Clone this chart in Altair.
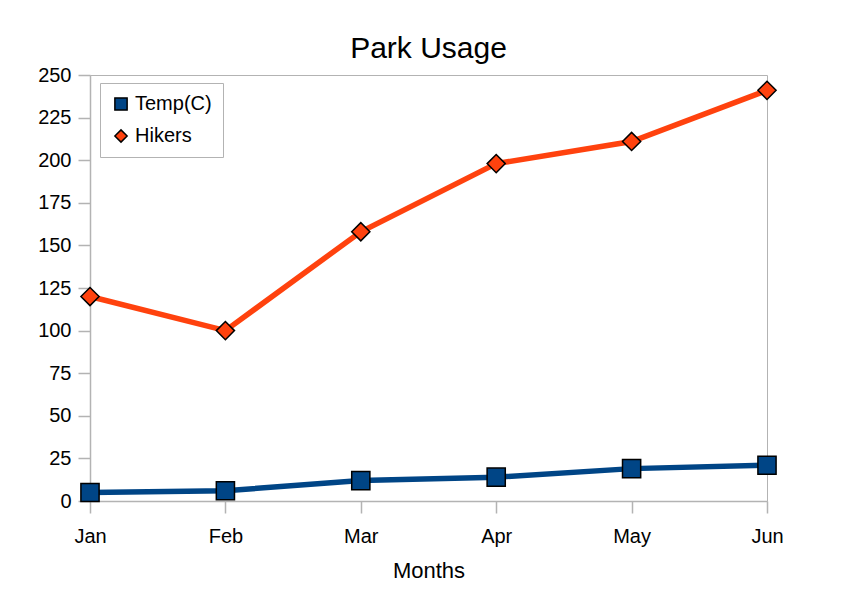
import altair as alt
import pandas as pd

months = ["Jan", "Feb", "Mar", "Apr", "May", "Jun"]
temp = [5, 6, 12, 14, 19, 21]
hikers = [120, 100, 158, 198, 211, 241]
series_names = ["Temp(C)", "Hikers"]
series_colors = ["#004586", "#ff420e"]
series_shapes = ["square", "diamond"]
y_ticks = [0, 25, 50, 75, 100, 125, 150, 175, 200, 225, 250]

rows = []
for m, v in zip(months, temp):
    rows.append({"month": m, "series": "Temp(C)", "value": v})
for m, v in zip(months, hikers):
    rows.append({"month": m, "series": "Hikers", "value": v})
df = pd.DataFrame(rows)

FONT = "Liberation Sans"

x = alt.X(
    "month:N",
    sort=months,
    scale=alt.Scale(type="point", padding=0),
    axis=alt.Axis(title="Months", labelAngle=0, tickSize=12, labelPadding=13,
                  titlePadding=14, titleFontSize=22),
)
y = alt.Y(
    "value:Q",
    scale=alt.Scale(domain=[0, 250], nice=False),
    axis=alt.Axis(title=None, values=y_ticks, tickSize=12, labelPadding=7),
)
legend = alt.Legend(
    title=None, orient="none", legendX=10, legendY=8, padding=11,
    strokeColor="#b3b3b3", fillColor="white", labelFont=FONT, labelFontSize=20,
    labelColor="black", symbolSize=150, rowPadding=12,
    symbolStrokeColor="black", symbolStrokeWidth=1.5, labelOffset=4,
)
color = alt.Color("series:N", scale=alt.Scale(domain=series_names, range=series_colors), legend=legend)
shape = alt.Shape("series:N", scale=alt.Scale(domain=series_names, range=series_shapes), legend=legend)

line_layers = [
    alt.Chart(df).transform_filter(alt.datum.series == name).mark_line(strokeWidth=5.5, color=col).encode(x=x, y=y)
    for name, col in zip(series_names, series_colors)
]
points = alt.Chart(df).mark_point(filled=True, opacity=1, size=330, stroke="black", strokeWidth=1.5).encode(
    x=x, y=y, color=color, shape=shape
)

chart = alt.layer(*line_layers, points).properties(
    width=677,
    height=426,
    title=alt.Title("Park Usage", fontSize=30, font=FONT, fontWeight="normal", color="black",
                    anchor="middle", offset=1),
    padding={"left": 82, "top": 67, "right": 70, "bottom": 90},
    autosize="none",
).configure_view(
    stroke="#b3b3b3", strokeWidth=1
).configure_axis(
    grid=False, domainColor="#b3b3b3", tickColor="#b3b3b3", labelColor="black",
    labelFont=FONT, labelFontSize=20, titleFont=FONT, titleFontWeight="normal",
    titleColor="black", domainWidth=1.5, tickWidth=1.5,
)

chart.save("out.html", embed_options={"renderer": "svg", "actions": False})
